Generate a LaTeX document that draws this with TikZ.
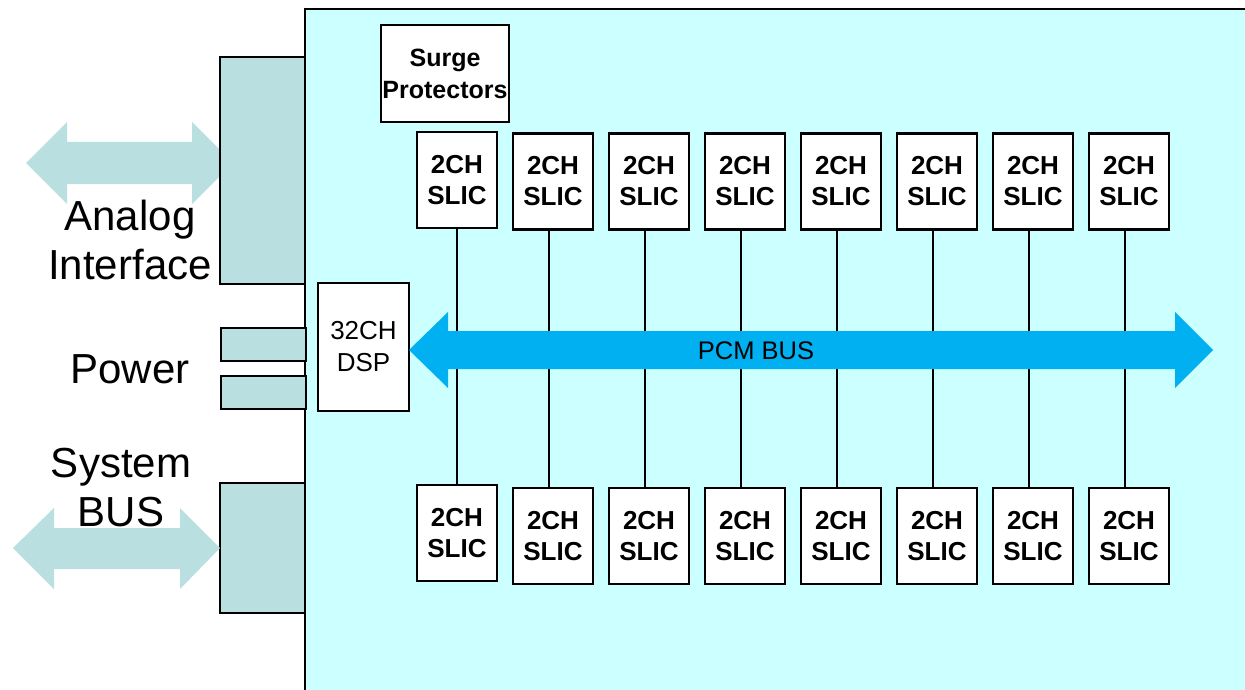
\documentclass[tikz,border=0pt]{standalone}
\usepackage{fontspec}
\setmainfont{Liberation Sans}
\definecolor{boardc}{HTML}{CCFFFF}
\definecolor{connc}{HTML}{B9DFE1}
\definecolor{busc}{HTML}{00B0F0}
\begin{document}
\begin{tikzpicture}[x=1pt,y=-1pt,
  brd/.style={line width=2.8pt},
  conn/.style={draw=black,fill=connc,line width=2.8pt},
  slic/.style={draw=black,fill=white,line width=2.8pt,minimum width=80pt,minimum height=96pt,inner sep=0pt,align=center,
     font=\fontsize{26}{31}\selectfont\bfseries},
  biglbl/.style={align=center,inner sep=0pt,font=\fontsize{42}{49}\selectfont},
  wire/.style={line width=2.8pt},
]
\useasboundingbox (0,0) rectangle (1245,690);
% board
\fill[boardc] (305,9) rectangle (1250,695);
\draw[brd] (1250,9) -- (305,9) -- (305,695);

% analog arrow (beneath connector)
\fill[connc] (26,163) -- (67,122) -- (67,142) -- (192,142) -- (192,122) -- (233,163) -- (192,204) -- (192,184) -- (67,184) -- (67,204) -- cycle;

% connectors
\draw[conn] (220,57) rectangle (305,284);
\draw[conn] (221,328) rectangle (306,361);
\draw[conn] (221,376) rectangle (306,409);
\draw[conn] (220,483) rectangle (305,613);

% labels
\node[biglbl] (lanalog) at (130,240) {Analog\\Interface};
\node[biglbl] (lpower) at (130,369) {Power};
\node[biglbl] (lsys) at (121,488) {System\\BUS};

% system bus arrow
\fill[connc] (13,548) -- (54,508) -- (54,528) -- (180,528) -- (180,508) -- (220,548) -- (180,589) -- (180,569) -- (54,569) -- (54,589) -- cycle;

% surge protectors
\node[draw=black,fill=white,line width=2.8pt,minimum width=128pt,minimum height=97pt,inner sep=0pt,align=center,
  font=\fontsize{25}{32}\selectfont\bfseries] (surge) at (445,73.5) {Surge\\Protectors};

% DSP
\node[draw=black,fill=white,line width=2.8pt,minimum width=91pt,minimum height=128pt,inner sep=0pt,align=center,
  font=\fontsize{26}{32}\selectfont] (dsp) at (363.5,347) {32CH\\DSP};

% SLICs
\node[slic] (t1) at (457,180) {2CH\\SLIC};
\node[slic] (b1) at (457,533) {2CH\\SLIC};
\foreach \i in {2,...,8}{
  \pgfmathsetmacro{\xx}{457+96*(\i-1)}
  \node[slic] (t\i) at (\xx,181.5) {2CH\\SLIC};
  \node[slic] (b\i) at (\xx,536) {2CH\\SLIC};
}
\draw[wire] (t1.south) -- (b1.north);
\foreach \i in {2,...,8}{
  \draw[wire] ([xshift=-4pt]t\i.south) -- ([xshift=-4pt]b\i.north);
}

% PCM bus
\fill[busc] (409,350) -- (448,312) -- (448,331) -- (1175,331) -- (1175,312) -- (1213,350) -- (1175,388) -- (1175,369) -- (448,369) -- (448,388) -- cycle;
\node[inner sep=0pt,font=\fontsize{25.5}{30}\selectfont] (pcm) at (756,351) {PCM BUS};
\end{tikzpicture}
\end{document}
